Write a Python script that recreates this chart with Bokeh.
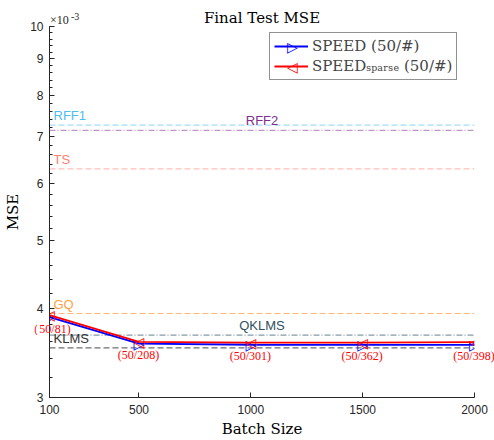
from bokeh.plotting import figure
from bokeh.models import (Range1d, FixedTicker, Label, LabelSet, ColumnDataSource,
                          Legend, LegendItem, CustomJSTickFormatter)
from bokeh.core.properties import value
from bokeh.embed import file_html
from bokeh.resources import INLINE

try:
    from bokeh.models import HTMLLabelSet as TxtLabelSet
except ImportError:
    TxtLabelSet = LabelSet

batch = [100, 500, 1000, 1500, 2000]
speed = [3.895e-3, 3.573e-3, 3.560e-3, 3.558e-3, 3.558e-3]
speed_sparse = [3.920e-3, 3.594e-3, 3.585e-3, 3.585e-3, 3.590e-3]
annot = ["（50/81)", "(50/208)", "(50/301)", "(50/362)", "(50/398)"]

base_names = ["RFF1", "RFF2", "TS", "GQ", "QKLMS", "KLMS"]
base_vals = [7.26e-3, 7.14e-3, 6.30e-3, 3.94e-3, 3.674e-3, 3.524e-3]
base_text_colors = ["#4DBEEE", "#7E2F8E", "#FF8070", "#FFA040", "#2F4F5F", "#333333"]
base_line_colors = ["#4DBEEE", "#7E2F8E", "#FF8070", "#FFA040", "#4F6F7F", "#555555"]
base_alpha = [0.5, 0.5, 0.5, 0.75, 0.7, 0.85]
base_dash = ["6 3", "6 2 1 2", "6 3", "6 3", "6 2 1 2", "6 3"]
base_label_mid = [False, True, False, False, True, False]

yticks = [3e-3, 4e-3, 5e-3, 6e-3, 7e-3, 8e-3, 9e-3, 10e-3]
yminor = [round(v * 1e-4, 6) for v in range(30, 101, 2)]
xticks = [100, 500, 1000, 1500, 2000]

serif = "DejaVu Serif"
sans = "Liberation Sans"
MARK_R = "▷"
MARK_L = "◁"

p = figure(width=494, height=440, output_backend="svg", toolbar_location=None,
           x_range=Range1d(100, 2000), y_range=Range1d(3e-3, 10e-3),
           y_axis_type="log", min_border_left=49, min_border_right=20,
           min_border_top=26, min_border_bottom=42)
p.title.text = "Final Test MSE"
p.title.align = "center"
p.title.text_font = serif
p.title.text_font_size = "15px"
p.title.text_font_style = "normal"
p.title.text_color = "#000000"
p.title.standoff = 0
p.title.offset = 0
p.outline_line_color = None
p.xgrid.visible = False
p.ygrid.visible = False
p.background_fill_color = "white"

for ax in (p.xaxis[0], p.yaxis[0]):
    ax.axis_line_color = "#262626"
    ax.major_tick_line_color = "#262626"
    ax.minor_tick_line_color = "#262626"
    ax.major_tick_in = 5
    ax.major_tick_out = 0
    ax.minor_tick_in = 3
    ax.minor_tick_out = 0
    ax.major_label_text_font = sans
    ax.major_label_text_font_size = "12px"
    ax.major_label_text_color = "#262626"
    ax.axis_label_text_font = serif
    ax.axis_label_text_font_size = "15px"
    ax.axis_label_text_font_style = "normal"
    ax.axis_label_text_color = "#000000"

p.xaxis.ticker = FixedTicker(ticks=xticks)
p.xaxis.minor_tick_line_color = None
p.xaxis.axis_label = "Batch Size"
p.xaxis.axis_label_standoff = 3
p.xaxis.major_label_standoff = 7

p.yaxis.ticker = FixedTicker(ticks=yticks, minor_ticks=yminor)
p.yaxis.formatter = CustomJSTickFormatter(code="return String(Math.round(tick*1000));")
p.yaxis.axis_label = "MSE"
p.yaxis.axis_label_standoff = 5
p.yaxis.major_label_standoff = 6

# baselines
for name, v, tc, lc, a, d, mid in zip(base_names, base_vals, base_text_colors,
                                      base_line_colors, base_alpha, base_dash, base_label_mid):
    p.line(x=[batch[0], batch[-1]], y=[v, v], line_color=lc, line_alpha=a,
           line_dash=d, line_width=1.2)
    if mid:
        p.add_layout(Label(x=(batch[0] + batch[-1]) / 2, y=v, text=name, text_align="center",
                           text_baseline="bottom", y_offset=2, text_color=tc,
                           text_font=sans, text_font_size="13px"))
    else:
        p.add_layout(Label(x=batch[0], y=v, text=name, text_align="left",
                           text_baseline="bottom", x_offset=4, y_offset=2, text_color=tc,
                           text_font=sans, text_font_size="13px"))

src_b = ColumnDataSource(dict(x=batch, y=speed))
src_r = ColumnDataSource(dict(x=batch, y=speed_sparse))

mk_style = dict(text_align="center", text_baseline="middle",
                text_font=value("DejaVu Sans"), text_font_size="14px")
r_speed = p.line("x", "y", source=src_b, line_color="#0000FF", line_width=1.8)
m_speed = p.text("x", "y", text=value(MARK_R), source=src_b, text_color="#0000FF", **mk_style)
r_sparse = p.line("x", "y", source=src_r, line_color="#FF0000", line_width=1.8)
m_sparse = p.text("x", "y", text=value(MARK_L), source=src_r, text_color="#FF0000", **mk_style)

src = ColumnDataSource(dict(x=batch, y=speed_sparse, t=annot))
p.add_layout(TxtLabelSet(x="x", y="y", text="t", source=src, text_align="center",
                         text_baseline="middle", y_offset=-14, text_color="#FF0000",
                         text_font=sans, text_font_size="12px"))

# x10^-3 label
exp_src = ColumnDataSource(dict(x=[batch[0]], y=[yticks[-1]], t=["×10"]))
exp_src2 = ColumnDataSource(dict(x=[batch[0]], y=[yticks[-1]], t=["-3"]))
p.add_layout(TxtLabelSet(x="x", y="y", text="t", source=exp_src, text_align="left",
                         text_baseline="middle", x_offset=1, y_offset=6, text_color="#262626",
                         text_font=sans, text_font_size="12px"))
p.add_layout(TxtLabelSet(x="x", y="y", text="t", source=exp_src2, text_align="left",
                         text_baseline="middle", x_offset=22, y_offset=10, text_color="#262626",
                         text_font=sans, text_font_size="10px"))

legend = Legend(items=[
    LegendItem(label="SPEED (50/#)", renderers=[r_speed, m_speed]),
    LegendItem(label="SPEEDₛₚₐᵣₛₑ (50/#)", renderers=[r_sparse, m_sparse]),
], location=(220, 317))
legend.label_text_font = serif
legend.label_text_font_size = "15px"
legend.label_height = 18
legend.glyph_height = 18
legend.glyph_width = 34
legend.spacing = 2
legend.padding = 4
legend.margin = 0
legend.label_standoff = 4
legend.border_line_color = "#262626"
legend.border_line_width = 1
legend.background_fill_alpha = 0
p.add_layout(legend)

# legend markers drawn at the legend glyph area (offsets from the frame's top-left corner)
for mk, col, dy in ((MARK_R, "#0000FF", -21), (MARK_L, "#FF0000", -41)):
    msrc = ColumnDataSource(dict(x=[batch[0]], y=[yticks[-1]], t=[mk]))
    p.add_layout(TxtLabelSet(x="x", y="y", text="t", source=msrc, x_offset=243, y_offset=dy,
                             text_align="center", text_baseline="middle", text_color=col,
                             text_font="DejaVu Sans", text_font_size="14px"))

open("out.html", "w").write(file_html(p, INLINE))
